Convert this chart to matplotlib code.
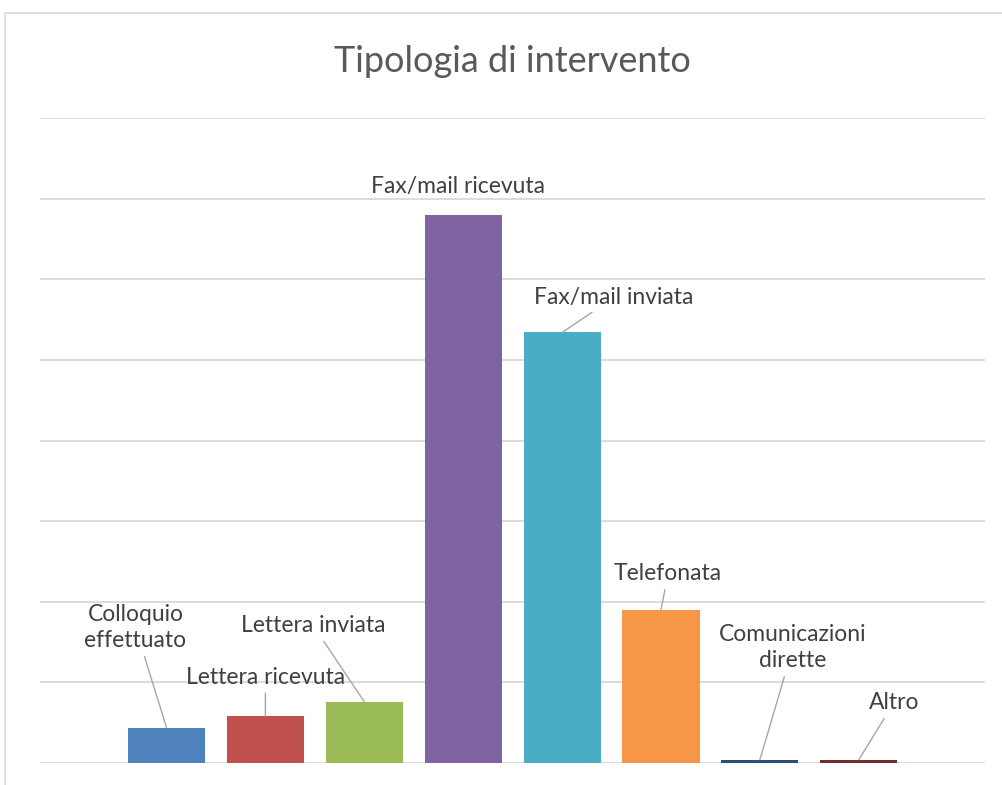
import matplotlib.pyplot as plt
from matplotlib.patches import Rectangle

categories = ['Colloquio\neffettuato', 'Lettera ricevuta', 'Lettera inviata', 'Fax/mail ricevuta',
              'Fax/mail inviata', 'Telefonata', 'Comunicazioni\ndirette', 'Altro']
values = [22, 29, 38, 340, 267, 95, 2, 2]
colors = ['#4F81BD', '#C0504D', '#9BBB59', '#8064A2', '#4BACC6', '#F79646', '#2C4D75', '#772C2A']

# label offsets from the bar top, in pixels
label_offsets = [(-31, 100), (0, 39), (-51, 76), (-5, 28), (52, 35), (7, 36), (33, 112), (35, 57)]
leader = [True, True, True, False, True, True, True, True]

plt.rcParams['font.family'] = ['Lato', 'DejaVu Sans']

fig = plt.figure(figsize=(10.02, 7.85), dpi=100)
W, H = 1002, 785

# chart frame
fig.patches.append(Rectangle((5 / W, -0.1), 1.2, 1 - 13 / H + 0.1, transform=fig.transFigure,
                             fill=False, edgecolor='#D9D9D9', lw=1.2))

ax = fig.add_axes([40 / W, 1 - 763 / H, (985 - 40) / W, (763 - 118) / H])
x = range(len(values))
ax.bar(x, values, width=0.78, color=colors, zorder=3)

ax.set_xlim(-1.279, 8.276)
ax.set_ylim(0, 400)
ax.set_yticks(range(0, 401, 50))
ax.yaxis.grid(True, color='#D9D9D9', lw=1.3)
ax.set_axisbelow(True)
ax.tick_params(left=False, bottom=False, labelleft=False, labelbottom=False)
for s in ax.spines.values():
    s.set_visible(False)

for i, (lab, v) in enumerate(zip(categories, values)):
    arrow = dict(arrowstyle='-', color='#A6A6A6', lw=1, shrinkA=2, shrinkB=0) if leader[i] else None
    ax.annotate(lab, xy=(i, v), xytext=label_offsets[i], textcoords='offset pixels',
                ha='center', va='center', multialignment='center', fontsize=16.5,
                color='#404040', linespacing=1.3, arrowprops=arrow, zorder=4)

fig.text(512 / W, 1 - 62 / H, 'Tipologia di intervento', ha='center', va='center',
         fontsize=26, color='#595959')

fig.savefig('out.png', dpi=100)
